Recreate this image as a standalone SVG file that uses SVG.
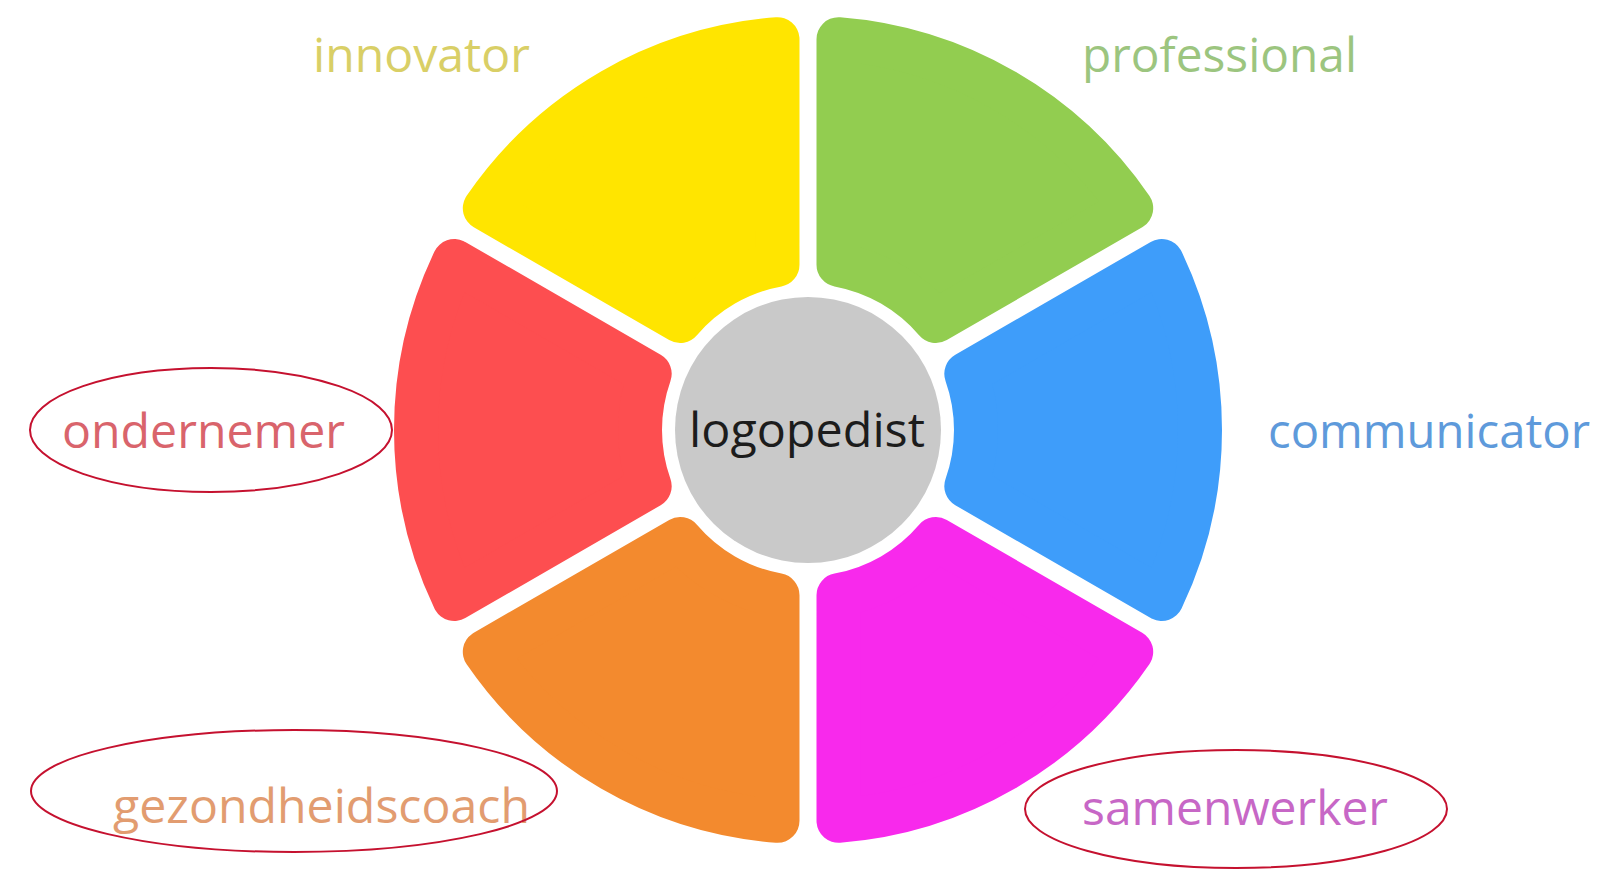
<svg xmlns="http://www.w3.org/2000/svg" xmlns:xlink="http://www.w3.org/1999/xlink" width="1616" height="870" viewBox="0 0 1616 870">
  <style>
    .seg { stroke-width: 44; stroke-linejoin: round; }
    .lbl { font-family: "Open Sans", "DejaVu Sans", sans-serif; font-size: 47px; }
    .ring { fill: none; stroke: #C5112F; stroke-width: 2; }
  </style>
  <defs>
    <path id="seg" d="M 30.5 -390.81 A 392 392 0 0 1 323.20 -221.82 L 127.82 -109.02 A 168 168 0 0 0 30.5 -165.21 Z"/>
  </defs>
  <rect width="1616" height="870" fill="#FFFFFF"/>

  <g id="professional">
    <use xlink:href="#seg" href="#seg" class="seg" fill="#92CD50" stroke="#92CD50" transform="translate(808 430) rotate(0)"/>
    <text class="lbl" x="1082" y="72" fill="#9CC57F" textLength="275" lengthAdjust="spacingAndGlyphs">professional</text>
  </g>
  <g id="communicator">
    <use xlink:href="#seg" href="#seg" class="seg" fill="#3E9DFA" stroke="#3E9DFA" transform="translate(808 430) rotate(60)"/>
    <text class="lbl" x="1268" y="448" fill="#5E9ADB" textLength="322" lengthAdjust="spacingAndGlyphs">communicator</text>
  </g>
  <g id="samenwerker">
    <use xlink:href="#seg" href="#seg" class="seg" fill="#F829EC" stroke="#F829EC" transform="translate(808 430) rotate(120)"/>
    <text class="lbl" x="1082" y="825" fill="#C767C6" textLength="306" lengthAdjust="spacingAndGlyphs">samenwerker</text>
    <ellipse class="ring" cx="1236" cy="809" rx="211" ry="59"/>
  </g>
  <g id="gezondheidscoach">
    <use xlink:href="#seg" href="#seg" class="seg" fill="#F38A2E" stroke="#F38A2E" transform="translate(808 430) rotate(180)"/>
    <text class="lbl" x="113" y="823" fill="#E29C70" textLength="417" lengthAdjust="spacingAndGlyphs">gezondheidscoach</text>
    <ellipse class="ring" cx="294" cy="791" rx="263" ry="61"/>
  </g>
  <g id="ondernemer">
    <use xlink:href="#seg" href="#seg" class="seg" fill="#FD4E50" stroke="#FD4E50" transform="translate(808 430) rotate(240)"/>
    <text class="lbl" x="62" y="448" fill="#D9646C" textLength="283" lengthAdjust="spacingAndGlyphs">ondernemer</text>
    <ellipse class="ring" cx="211" cy="430" rx="181" ry="62"/>
  </g>
  <g id="innovator">
    <use xlink:href="#seg" href="#seg" class="seg" fill="#FFE500" stroke="#FFE500" transform="translate(808 430) rotate(300)"/>
    <text class="lbl" x="313" y="72" fill="#D9CF66" textLength="217" lengthAdjust="spacingAndGlyphs">innovator</text>
  </g>
  <g id="logopedist">
    <circle cx="808" cy="430" r="133" fill="#C9C9C9"/>
    <text class="lbl" x="689" y="447" fill="#1C1C1C" textLength="236" lengthAdjust="spacingAndGlyphs">logopedist</text>
  </g>
  <g id="connectors"/>
</svg>
